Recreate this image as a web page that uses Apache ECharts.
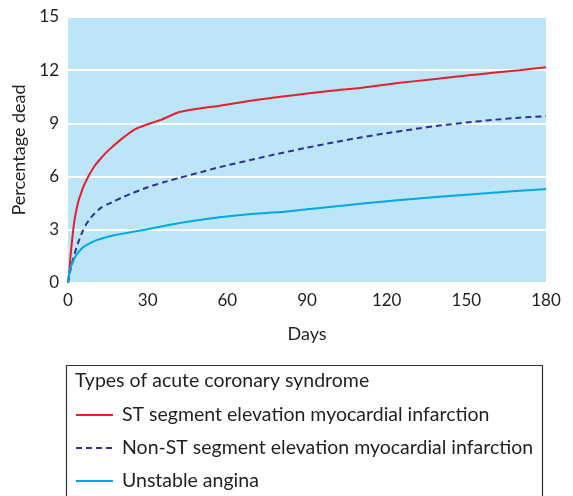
<!DOCTYPE html>
<html><head><meta charset="utf-8">
<script src="https://cdn.jsdelivr.net/npm/echarts@6/dist/echarts.min.js"></script>
<style>html,body{margin:0;padding:0;background:#fff}#c{width:573px;height:496px}</style>
</head><body><div id="c"></div>
<script>
const xTicks = [0, 30, 60, 90, 120, 150, 180];
const yTicks = [0, 3, 6, 9, 12, 15];
const seriesNames = ['ST segment elevation myocardial infarction', 'Non-ST segment elevation myocardial infarction', 'Unstable angina'];
const stemiDays = [0, 0.5, 1, 1.5, 2.25, 3, 4, 5, 6, 8, 10, 12.5, 15, 20, 25, 30, 35, 42, 50, 57, 70, 80, 90, 100, 110, 120, 130, 140, 150, 160, 170, 180];
const stemiVals = [0, 0.7, 1.6, 2.35, 3.35, 4.0, 4.65, 5.1, 5.5, 6.1, 6.6, 7.05, 7.45, 8.1, 8.65, 8.95, 9.2, 9.64, 9.85, 10.0, 10.3, 10.5, 10.68, 10.85, 11.0, 11.2, 11.37, 11.53, 11.7, 11.85, 12.0, 12.17];
const nstemiDays = [0, 1, 2, 3, 4, 5.5, 7, 8.5, 10, 12.5, 15, 17.5, 20, 24, 30, 36, 42, 50, 57, 70, 80, 90, 100, 110, 120, 130, 140, 150, 160, 170, 180];
const nstemiVals = [0, 0.8, 1.4, 1.9, 2.35, 2.92, 3.35, 3.66, 3.92, 4.25, 4.45, 4.62, 4.8, 5.05, 5.4, 5.68, 5.93, 6.25, 6.53, 6.98, 7.32, 7.63, 7.93, 8.2, 8.45, 8.67, 8.88, 9.05, 9.2, 9.32, 9.41];
const uaDays = [0, 0.5, 1, 1.6, 2.5, 3.5, 5, 6, 8, 11, 14, 17, 20, 24, 30, 35, 40, 45, 50, 57, 70, 80, 90, 100, 110, 120, 130, 140, 150, 160, 170, 180];
const uaVals = [0, 0.6, 0.85, 1.1, 1.42, 1.66, 1.92, 2.05, 2.22, 2.43, 2.57, 2.68, 2.77, 2.87, 3.03, 3.19, 3.33, 3.45, 3.56, 3.71, 3.9, 4.0, 4.16, 4.31, 4.47, 4.61, 4.74, 4.87, 4.98, 5.09, 5.2, 5.3];

const pairs = (xs, ys) => xs.map((x, i) => [x, ys[i]]);
const font = 'Lato, "Open Sans", sans-serif';
const chart = echarts.init(document.getElementById('c'), null, {renderer: 'canvas'});
chart.setOption({
  animation: false,
  textStyle: {fontFamily: font},
  grid: {left: 68, right: 27, top: 17, bottom: 213, show: true, backgroundColor: '#bde5f8', borderWidth: 0},
  xAxis: {
    type: 'value', min: 0, max: 180, interval: 30,
    name: 'Days', nameLocation: 'middle', nameGap: 42,
    nameTextStyle: {fontSize: 18, color: '#231f20', fontFamily: font},
    axisLine: {show: false}, axisTick: {show: false}, splitLine: {show: false},
    axisLabel: {fontSize: 17, color: '#231f20', margin: 9, fontFamily: font}
  },
  yAxis: {
    type: 'value', min: 0, max: 15, interval: 3,
    name: 'Percentage dead', nameLocation: 'middle', nameGap: 29, nameRotate: 90,
    nameTextStyle: {fontSize: 18, color: '#231f20', fontFamily: font},
    axisLine: {show: false}, axisTick: {show: false},
    splitLine: {show: true, lineStyle: {color: '#ffffff', width: 2}},
    axisLabel: {fontSize: 17, color: '#231f20', margin: 9, fontFamily: font}
  },
  legend: {
    orient: 'vertical', left: 75, top: 404, height: 120, padding: 0,
    itemWidth: 37, itemHeight: 14, itemGap: 11,
    itemStyle: {opacity: 0},
    textStyle: {fontSize: 19.5, color: '#231f20', fontFamily: font, lineHeight: 22, padding: [0, 0, 0, 4]},
    data: seriesNames
  },
  graphic: [
    {type: 'rect', left: 64, top: 363, shape: {width: 476, height: 150}, style: {fill: 'none', stroke: '#333', lineWidth: 1.2}, z: -1},
    {type: 'text', left: 75, top: 371, style: {text: 'Types of acute coronary syndrome', fontSize: 19.5, fill: '#231f20', fontFamily: font}}
  ],
  series: [
    {name: seriesNames[0], type: 'line', data: pairs(stemiDays, stemiVals), symbol: 'none', smooth: 0.2,
     lineStyle: {color: '#e5202e', width: 2}, itemStyle: {color: '#e5202e'}},
    {name: seriesNames[1], type: 'line', data: pairs(nstemiDays, nstemiVals), symbol: 'none', smooth: 0.2,
     lineStyle: {color: '#2e3192', width: 2, type: [6, 4]}, itemStyle: {color: '#2e3192'}},
    {name: seriesNames[2], type: 'line', data: pairs(uaDays, uaVals), symbol: 'none', smooth: 0.2,
     lineStyle: {color: '#00a8e6', width: 2}, itemStyle: {color: '#00a8e6'}}
  ]
});
</script></body></html>
